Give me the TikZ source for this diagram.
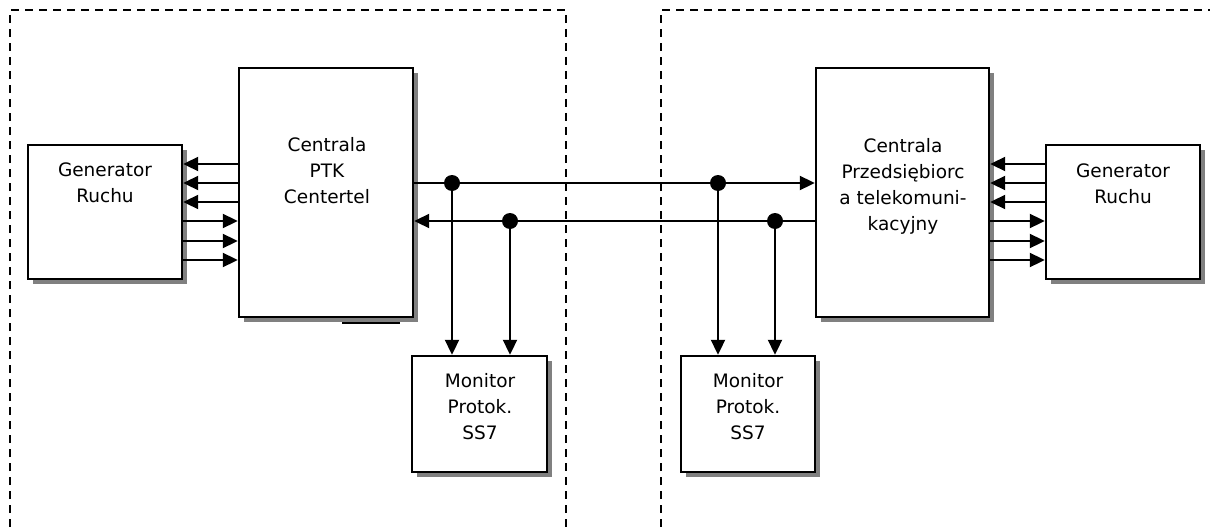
\documentclass[tikz,border=0pt]{standalone}
\usepackage{fontspec}
\setmainfont{DejaVu Sans}
\usetikzlibrary{arrows.meta,shadows}
\begin{document}
\begin{tikzpicture}[x=1pt,y=-1pt,
  box/.style={draw=black,line width=2.4pt,fill=white,inner sep=0pt,
    general shadow={fill=black!50,shadow xshift=5pt,shadow yshift=-5pt}},
  txt/.style={align=center,font=\fontsize{18.5}{26}\selectfont,inner sep=0pt},
  arr/.style={line width=2pt,-{Triangle[length=15pt,width=14pt]}},
  ln/.style={line width=2pt},
  frame/.style={line width=1.5pt,dash pattern=on 8pt off 6pt},
  dot/.style={circle,fill=black,inner sep=0pt,minimum size=16pt}]
\useasboundingbox (0,0) rectangle (1210,527);
% frames
\draw[frame] (10,527) -- (10,10) -- (566,10) -- (566,527);
\draw[frame] (661,527) -- (661,10) -- (1210,10);
% boxes
\node[box,minimum width=154pt,minimum height=134pt] (gl) at (105,212) {};
\node[box,minimum width=174pt,minimum height=249pt] (cl) at (326,192.5) {};
\node[box,minimum width=135pt,minimum height=116pt] (ml) at (479.5,414) {};
\node[box,minimum width=134pt,minimum height=116pt] (mr) at (748,414) {};
\node[box,minimum width=173pt,minimum height=249pt] (cr) at (902.5,192.5) {};
\node[box,minimum width=154pt,minimum height=134pt] (gr) at (1123,212) {};
\draw[ln] (342,323) -- (400,323);
% texts
\node[txt] (glt) at (105,183) {Generator\\Ruchu};
\node[txt] (clt) at (327,171) {Centrala\\PTK\\Centertel};
\node[txt] (mlt) at (480,407) {Monitor\\Protok.\\SS7};
\node[txt] (mrt) at (748,407) {Monitor\\Protok.\\SS7};
\node[txt] (crt) at (903,186) {Centrala\\Przedsiębiorc\\a telekomuni-\\kacyjny};
\node[txt] (grt) at (1123,184) {Generator\\Ruchu};
% generator links left
\foreach \y in {164,183,202} \draw[arr] (cl.west |- 0,\y) -- (gl.east |- 0,\y);
\foreach \y in {221,241,260} \draw[arr] (gl.east |- 0,\y) -- (cl.west |- 0,\y);
% generator links right
\foreach \y in {164,183,202} \draw[arr] (gr.west |- 0,\y) -- (cr.east |- 0,\y);
\foreach \y in {221,241,260} \draw[arr] (cr.east |- 0,\y) -- (gr.west |- 0,\y);
% trunk lines
\draw[arr] (cl.east |- 0,183) -- (cr.west |- 0,183);
\draw[arr] (cr.west |- 0,221) -- (cl.east |- 0,221);
\node[dot] (d1) at (452,183) {};
\node[dot] (d2) at (718,183) {};
\node[dot] (d3) at (510,221) {};
\node[dot] (d4) at (775,221) {};
\draw[arr] (d1.center) -- (d1.center |- ml.north);
\draw[arr] (d3.center) -- (d3.center |- ml.north);
\draw[arr] (d2.center) -- (d2.center |- mr.north);
\draw[arr] (d4.center) -- (d4.center |- mr.north);
\end{tikzpicture}
\end{document}
